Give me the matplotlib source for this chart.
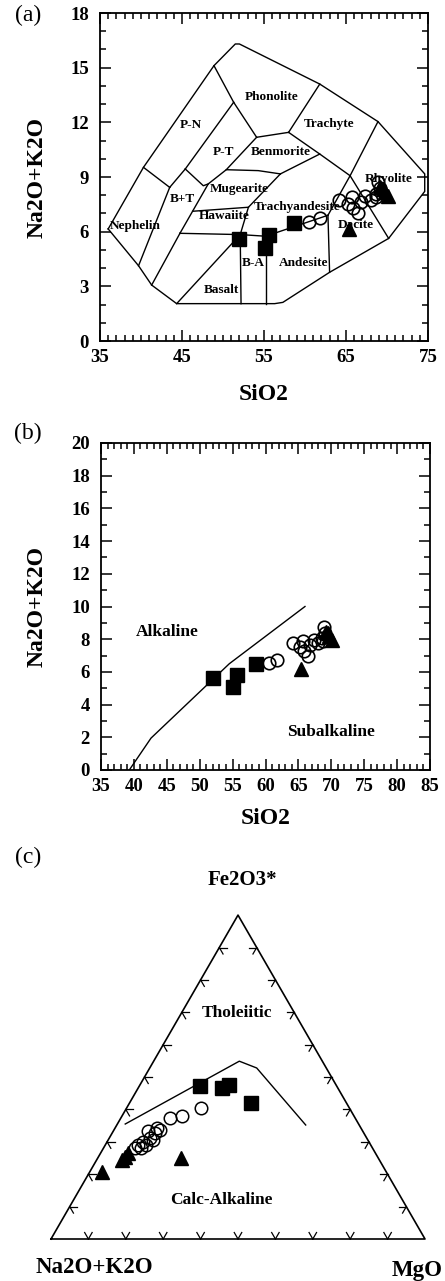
import numpy as np
import matplotlib.pyplot as plt
from matplotlib.ticker import MultipleLocator

plt.rcParams['font.family'] = ['Liberation Serif', 'DejaVu Serif']
plt.rcParams['font.weight'] = 'bold'
plt.rcParams['axes.labelweight'] = 'bold'
plt.rcParams['axes.linewidth'] = 1.3

# ---- sample data (same samples in a and b) ----
sq_sio2 = [52.0, 55.1, 55.6, 58.6]
sq_alk = [5.6, 5.1, 5.8, 6.5]
ci_sio2 = [60.5, 61.8, 64.2, 65.3, 65.7, 65.9, 66.5, 66.8, 67.3, 68.0, 68.6, 68.9, 69.1, 68.7]
ci_alk = [6.55, 6.75, 7.75, 7.5, 7.9, 7.3, 7.0, 7.65, 7.95, 7.75, 8.05, 8.75, 8.4, 7.9]
tr_sio2 = [65.4, 69.2, 69.7, 70.1, 69.5]
tr_alk = [6.15, 8.45, 8.2, 7.95, 8.35]

# ---- TAS (Cox et al.) field boundaries ----
tas_outline_x = [36.0, 40.3, 48.9, 51.5, 52.0, 61.8, 68.9, 74.6, 74.6, 70.2, 63.0, 57.3, 56.3, 44.35, 41.3, 39.7, 36.0]
tas_outline_y = [6.15, 9.53, 15.11, 16.3, 16.3, 14.1, 12.04, 9.17, 8.21, 5.63, 3.77, 2.12, 2.05, 2.05, 3.07, 4.13, 6.15]
tas_lines = [
    ([40.3, 43.5], [9.53, 8.43]),
    ([43.5, 39.7], [8.43, 4.13]),
    ([43.5, 45.4], [8.43, 9.44]),
    ([45.4, 51.3], [9.44, 13.1]),
    ([48.9, 51.3], [15.11, 13.1]),
    ([51.3, 54.1], [13.1, 11.18]),
    ([54.1, 58.0], [11.18, 11.45]),
    ([58.0, 61.8], [11.45, 14.1]),
    ([58.0, 61.8, 65.5], [11.45, 10.26, 9.07]),
    ([68.9, 65.5, 62.8], [12.04, 9.07, 6.9]),
    ([65.5, 70.2], [9.07, 5.63]),
    ([62.8, 63.0], [6.9, 3.77]),
    ([52.1, 55.2, 62.8], [5.84, 5.75, 6.9]),
    ([55.2, 55.2], [5.75, 2.05]),
    ([52.1, 52.2], [5.84, 2.05]),
    ([52.1, 44.35], [5.84, 2.05]),
    ([41.3, 44.75], [3.07, 5.91]),
    ([44.75, 52.1], [5.91, 5.84]),
    ([45.4, 47.6, 48.2], [9.44, 8.52, 8.62]),
    ([54.1, 50.4, 48.2, 44.75], [11.18, 9.40, 8.62, 5.91]),
    ([50.4, 54.3, 57.0], [9.40, 9.35, 9.17]),
    ([57.0, 61.8], [9.17, 10.26]),
    ([57.0, 53.1, 52.1], [9.17, 7.34, 5.84]),
    ([46.3, 53.1], [7.12, 7.34]),
]
tas_names = ['Phonolite', 'Trachyte', 'P-N', 'P-T', 'Benmorite', 'Mugearite', 'B+T',
             'Trachyandesite', 'Hawaiite', 'Rhyolite', 'Nephelin', 'Dacite', 'B-A',
             'Andesite', 'Basalt']
tas_name_x = [55.9, 63.0, 46.1, 50.0, 57.0, 52.0, 45.0, 59.0, 50.2, 70.2, 39.3, 66.2, 53.7, 59.8, 49.8]
tas_name_y = [13.4, 11.9, 11.85, 10.35, 10.35, 8.35, 7.8, 7.35, 6.85, 8.9, 6.3, 6.35, 4.3, 4.3, 2.8]

# ---- alkaline / subalkaline divide ----
div_sio2 = [39.3, 42.6, 54.5, 66.0]
div_alk = [0.0, 1.95, 6.5, 10.0]

# ---- AFM data (percent) ----
afm_sq_F = [47.3, 46.5, 47.6, 41.9]
afm_sq_M = [16.1, 22.4, 23.9, 32.4]
afm_ci_F = [40.4, 38.1, 37.4, 34.2, 32.6, 31.1, 30.0, 29.0, 28.0, 33.4, 28.1, 30.6, 33.7, 29.0]
afm_ci_M = [19.9, 16.1, 13.0, 11.2, 11.5, 10.9, 9.7, 8.8, 8.5, 9.3, 10.0, 12.0, 12.3, 10.9]
afm_tr_F = [20.8, 25.4, 24.4, 26.6, 25.1]
afm_tr_M = [3.3, 7.1, 6.7, 7.3, 22.2]
afm_line_F = [35.5, 54.9, 52.8, 35.2]
afm_line_M = [2.1, 22.9, 28.6, 50.5]

W, H = 445, 1281
fig = plt.figure(figsize=(W / 100, H / 100), dpi=100)


def px_axes(l, t, r, b):
    return fig.add_axes([l / W, 1 - b / H, (r - l) / W, (b - t) / H])


def style_axes(ax, xticks, yticks):
    ax.set_xticks(xticks)
    ax.set_yticks(yticks)
    ax.xaxis.set_minor_locator(MultipleLocator(1))
    ax.yaxis.set_minor_locator(MultipleLocator(1))
    ax.tick_params(which='both', direction='in', top=True, right=True, width=1.1)
    ax.tick_params(which='major', length=8, labelsize=13.5)
    ax.tick_params(which='minor', length=4)
    ax.tick_params(axis='x', pad=6)
    ax.tick_params(axis='y', pad=8)


def plot_samples(ax):
    ax.plot(ci_sio2, ci_alk, 'o', mfc='none', mec='k', ms=9, mew=1.2, zorder=3)
    ax.plot(sq_sio2, sq_alk, 's', color='k', ms=10, zorder=4)
    ax.plot(tr_sio2, tr_alk, '^', color='k', ms=10, zorder=4)


# (a) TAS
ax1 = px_axes(100, 13, 428, 341)
style_axes(ax1, [35, 45, 55, 65, 75], [0, 3, 6, 9, 12, 15, 18])
ax1.set_xlim(35, 75)
ax1.set_ylim(0, 18)
ax1.plot(tas_outline_x, tas_outline_y, 'k-', lw=1)
for xs, ys in tas_lines:
    ax1.plot(xs, ys, 'k-', lw=1)
for name, x, y in zip(tas_names, tas_name_x, tas_name_y):
    ax1.text(x, y, name, fontsize=9.5, ha='center', va='center', zorder=2)
plot_samples(ax1)
ax1.set_xlabel('SiO2', fontsize=17)
ax1.set_ylabel('Na2O+K2O', fontsize=17)
ax1.xaxis.set_label_coords(0.5, -0.13)
ax1.yaxis.set_label_coords(-0.16, 0.5)

# (b) alkaline / subalkaline
ax2 = px_axes(101, 443, 430, 770)
style_axes(ax2, list(range(35, 86, 5)), list(range(0, 21, 2)))
ax2.set_xlim(35, 85)
ax2.set_ylim(0, 20)
ax2.plot(div_sio2, div_alk, 'k-', lw=1)
plot_samples(ax2)
ax2.text(45.1, 8.45, 'Alkaline', fontsize=12.5, ha='center', va='center')
ax2.text(70.0, 2.35, 'Subalkaline', fontsize=12.5, ha='center', va='center')
ax2.set_xlabel('SiO2', fontsize=17)
ax2.set_ylabel('Na2O+K2O', fontsize=17)
ax2.xaxis.set_label_coords(0.5, -0.115)
ax2.yaxis.set_label_coords(-0.163, 0.5)

# (c) AFM ternary
ax3 = fig.add_axes([0, 0, 1, 461 / H])
ax3.set_xlim(-51 / 374, 394 / 374)
ax3.set_ylim(-42 / 374, 419 / 374)
ax3.axis('off')


def tern(F, M):
    F = np.asarray(F, float) / 100
    M = np.asarray(M, float) / 100
    return M + F / 2, F * np.sqrt(3) / 2


tx, ty = tern([0, 100, 0, 0], [0, 0, 100, 0])
ax3.plot(tx, ty, 'k-', lw=1.2)
# ternary tick marks every 10 %
L = 0.02
dirs = {'base': [(0.5, 0.866), (-0.5, 0.866)],
        'left': [(1, 0), (0.5, -0.866)],
        'right': [(-1, 0), (-0.5, -0.866)]}
for k in range(1, 10):
    f = k / 10
    pts = {'base': (f, 0.0),
           'left': (f / 2, f * 0.866),
           'right': (1 - f / 2, f * 0.866)}
    for side, (px, py) in pts.items():
        for dx, dy in dirs[side]:
            ax3.plot([px, px + L * dx], [py, py + L * dy], 'k-', lw=0.9)

lx, ly = tern(afm_line_F, afm_line_M)
ax3.plot(lx, ly, 'k-', lw=1)
cx, cy = tern(afm_ci_F, afm_ci_M)
ax3.plot(cx, cy, 'o', mfc='none', mec='k', ms=9, mew=1.1, zorder=3)
sx, sy = tern(afm_sq_F, afm_sq_M)
ax3.plot(sx, sy, 's', color='k', ms=10, zorder=4)
rx, ry = tern(afm_tr_F, afm_tr_M)
ax3.plot(rx, ry, '^', color='k', ms=10, zorder=4)

ax3.text(0.497, 0.604, 'Tholeiitic', fontsize=12.5, ha='center', va='center')
ax3.text(0.455, 0.104, 'Calc-Alkaline', fontsize=12.5, ha='center', va='center')
ax3.text(0.513, 0.96, 'Fe2O3*', fontsize=15, ha='center', va='center')
ax3.text(0.115, -0.075, 'Na2O+K2O', fontsize=16.5, ha='center', va='center')
ax3.text(0.979, -0.083, 'MgO', fontsize=16.5, ha='center', va='center')

# panel letters
for lab, y in [('(a)', 15), ('(b)', 433), ('(c)', 857)]:
    fig.text(28 / W, 1 - y / H, lab, fontsize=17, fontweight='normal', ha='center', va='center')

fig.savefig('out.png', dpi=100)
